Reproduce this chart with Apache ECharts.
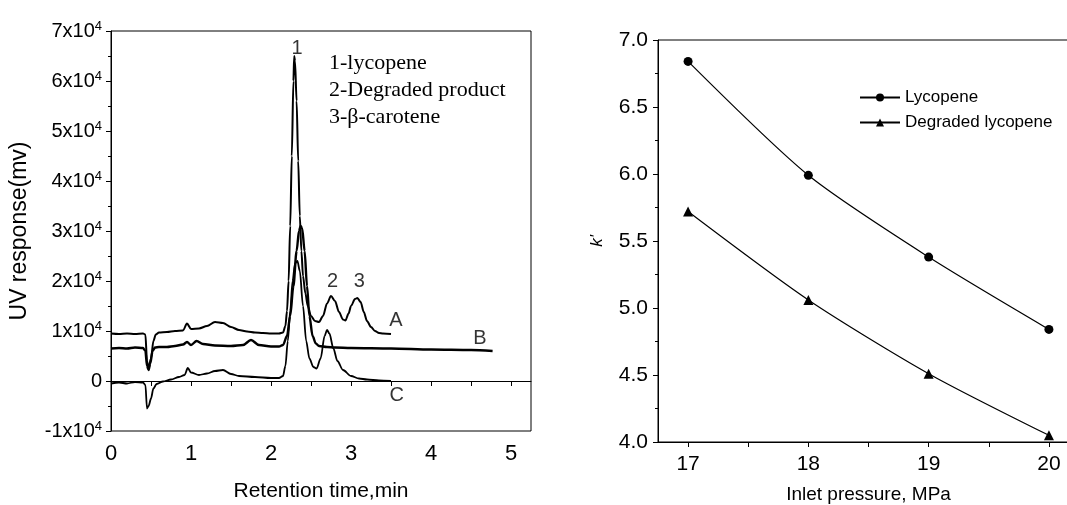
<!DOCTYPE html>
<html>
<head>
<meta charset="utf-8">
<script src="https://cdn.jsdelivr.net/npm/echarts@6/dist/echarts.min.js"></script>
<style>
  html, body { margin: 0; padding: 0; background: #fff; }
  #chart { width: 1067px; height: 505px; }
</style>
</head>
<body>
<div id="chart"></div>
<script>
// 色谱图 A：混合物（番茄红素 + 降解产物 + β-胡萝卜素）
var aTime = [0, 0.1, 0.2, 0.3, 0.4, 0.43, 0.45, 0.47, 0.5, 0.53, 0.56, 0.6, 0.7, 0.8, 0.9, 0.95, 1.0, 1.1, 1.2, 1.3, 1.4, 1.5, 1.6, 1.7, 1.8, 1.9, 2.0, 2.1, 2.15, 2.18, 2.2, 2.22, 2.24, 2.26, 2.28, 2.29, 2.3, 2.32, 2.34, 2.36, 2.38, 2.4, 2.43, 2.46, 2.5, 2.55, 2.6, 2.65, 2.7, 2.75, 2.8, 2.85, 2.9, 2.93, 2.97, 3.0, 3.05, 3.08, 3.12, 3.16, 3.2, 3.25, 3.3, 3.35, 3.4, 3.5];
var aResp = [9500, 9400, 9500, 9400, 9500, 9300, 4000, 2500, 4500, 8000, 9300, 9700, 9800, 10000, 10100, 11500, 10400, 10500, 11000, 11800, 11600, 10800, 10200, 9900, 9700, 9600, 9500, 9500, 9700, 11000, 14000, 20000, 31000, 45000, 60000, 65000, 64000, 56000, 44000, 33000, 26000, 21000, 17500, 15000, 13000, 12000, 11800, 13000, 15500, 17000, 16000, 13800, 12300, 12100, 13500, 15000, 16400, 16600, 15800, 13800, 12000, 10800, 10000, 9600, 9500, 9400];
// 色谱图 B
var bTime = [0, 0.1, 0.2, 0.3, 0.4, 0.43, 0.45, 0.47, 0.49, 0.52, 0.55, 0.6, 0.7, 0.8, 0.9, 0.95, 1.0, 1.07, 1.15, 1.3, 1.5, 1.65, 1.75, 1.85, 2.0, 2.1, 2.15, 2.2, 2.24, 2.28, 2.32, 2.35, 2.37, 2.39, 2.42, 2.45, 2.48, 2.52, 2.56, 2.6, 2.7, 2.8, 3.0, 3.5, 4.0, 4.5, 4.77];
var bResp = [6500, 6600, 6500, 6700, 6600, 6000, 3000, 2200, 3500, 6000, 6700, 6800, 6800, 7000, 7300, 7800, 7200, 8000, 7400, 7100, 7000, 7200, 8200, 7200, 6900, 6900, 7200, 9000, 13000, 19000, 26000, 30000, 31000, 30500, 26000, 19000, 13000, 9000, 7500, 7000, 6800, 6700, 6600, 6500, 6300, 6200, 6000];
// 色谱图 C
var cTime = [0, 0.1, 0.2, 0.3, 0.4, 0.43, 0.45, 0.47, 0.5, 0.53, 0.57, 0.65, 0.75, 0.85, 0.92, 0.96, 1.0, 1.1, 1.2, 1.3, 1.4, 1.5, 1.6, 1.8, 2.0, 2.1, 2.15, 2.18, 2.21, 2.24, 2.27, 2.3, 2.33, 2.36, 2.4, 2.44, 2.48, 2.53, 2.57, 2.62, 2.67, 2.7, 2.73, 2.78, 2.83, 2.9, 3.0, 3.1, 3.2, 3.35, 3.5];
var cResp = [-500, -300, -500, -200, -300, -800, -5500, -5000, -3500, -1500, -600, -100, 300, 800, 1200, 2600, 1700, 1200, 1500, 2000, 2200, 1400, 1000, 800, 600, 600, 1000, 3000, 8000, 14000, 20000, 23500, 24000, 22000, 15000, 8000, 4500, 2800, 2500, 4500, 9000, 10200, 9500, 6500, 4000, 2200, 1000, 500, 300, 100, 0];

// 峰号与曲线标记
var markText = ["1", "2", "3", "A", "B", "C"];
var markTime = [2.325, 2.77, 3.105, 3.56, 4.61, 3.57];
var markResp = [66600, 19900, 19900, 12100, 8500, -2800];

var noteLines = ["1-lycopene", "2-Degraded product", "3-β-carotene"];

// 右图：进口压力 vs k'
var pressure = [17, 18, 19, 20];
var kLycopene = [6.84, 5.99, 5.38, 4.84];
var kDegraded = [5.72, 5.06, 4.51, 4.05];

function pairs(xs, ys) {
	var out = [];
	for (var i = 0; i < xs.length; i++) {
		out.push([xs[i], ys[i]]);
	}
	return out;
}

var markData = [];
for (var i = 0; i < markText.length; i++) {
	markData.push({ name: markText[i], value: [markTime[i], markResp[i]] });
}

var black = "#000";
var sans = "Liberation Sans";

var chart = echarts.init(document.getElementById("chart"), null, { renderer: "canvas" });
var option = {
	animation: false,
	backgroundColor: "#fff",
	textStyle: { fontFamily: sans, color: black },
	grid: [
		{ left: 111, top: 31, width: 420, height: 400, outerBoundsMode: "none", show: true, borderColor: black, borderWidth: 1, backgroundColor: "transparent" },
		{ left: 658, top: 40, width: 421, height: 402, outerBoundsMode: "none", show: true, borderColor: black, borderWidth: 1, backgroundColor: "transparent" }
	],
	xAxis: [{
		gridIndex: 0,
		type: "value",
		min: 0,
		max: 5.25,
		interval: 0.5,
		name: "Retention time,min",
		nameLocation: "middle",
		nameGap: 50,
		nameTextStyle: { fontSize: 21, color: black, fontFamily: sans },
		axisLine: { lineStyle: { color: black, width: 1 } },
		axisTick: { length: 5, lineStyle: { color: black } },
		splitLine: { show: false },
		axisLabel: {
			fontSize: 22, color: black, margin: 12, showMaxLabel: false,
			formatter: function(v) { return v % 1 === 0 ? String(v) : ""; }
		}
	}, {
		gridIndex: 1,
		type: "value",
		min: 16.75,
		max: 20.25,
		splitNumber: 7,
		name: "Inlet pressure, MPa",
		nameLocation: "middle",
		nameGap: 43,
		nameTextStyle: { fontSize: 19, color: black, fontFamily: sans },
		axisLine: { lineStyle: { color: black, width: 1 } },
		axisTick: { length: 5, lineStyle: { color: black } },
		splitLine: { show: false },
		axisLabel: {
			fontSize: 21, color: black, margin: 12, showMinLabel: false, showMaxLabel: false,
			formatter: function(v) { return v % 1 === 0 ? String(v) : ""; }
		}
	}],
	yAxis: [{
		gridIndex: 0,
		type: "value",
		min: -10000,
		max: 70000,
		interval: 10000,
		name: "UV response(mv)",
		nameLocation: "middle",
		nameGap: 80,
		nameTextStyle: { fontSize: 23, color: black, fontFamily: sans },
		axisLine: { show: true, lineStyle: { color: black, width: 1 } },
		axisTick: { show: true, length: 5, lineStyle: { color: black } },
		minorTick: { show: true, splitNumber: 2, length: 3, lineStyle: { color: black } },
		splitLine: { show: false },
		axisLabel: {
			color: black, margin: 9,
			formatter: function(v) {
				if (v === 0) return "{n|0}";
				return "{n|" + (v / 10000) + "x10}{s|4}";
			},
			rich: {
				n: { fontSize: 20, color: black, fontFamily: sans },
				s: { fontSize: 13, color: black, fontFamily: sans, padding: [0, 0, 10, 0] }
			}
		}
	}, {
		gridIndex: 1,
		type: "value",
		min: 4,
		max: 7,
		interval: 0.5,
		name: "k'",
		nameLocation: "middle",
		nameGap: 52,
		nameTextStyle: { fontSize: 17, fontStyle: "italic", color: black, fontFamily: sans },
		axisLine: { show: true, lineStyle: { color: black, width: 1 } },
		axisTick: { show: true, length: 5, lineStyle: { color: black } },
		minorTick: { show: true, splitNumber: 2, length: 3, lineStyle: { color: black } },
		splitLine: { show: false },
		axisLabel: {
			fontSize: 21, color: black, margin: 10,
			formatter: function(v) { return v.toFixed(1); }
		}
	}],
	legend: {
		orient: "vertical",
		left: 859,
		top: 89,
		padding: 0,
		itemWidth: 40,
		itemHeight: 10,
		itemGap: 8,
		textStyle: { fontSize: 17, color: black, fontFamily: sans, lineHeight: 17 },
		data: ["Lycopene", "Degraded lycopene"]
	},
	graphic: [{
		type: "group",
		left: 329,
		top: 52,
		children: noteLines.map(function(t, i) {
			return {
				type: "text",
				x: 0,
				y: i * 27,
				style: { text: t, fontSize: 22, fontFamily: "Liberation Serif", fill: black }
			};
		})
	}],
	series: [{
		name: "A",
		type: "line",
		xAxisIndex: 0, yAxisIndex: 0,
		data: pairs(aTime, aResp),
		showSymbol: false,
		smooth: 0.3,
		smoothMonotone: "x",
		lineStyle: { color: black, width: 2 }
	}, {
		name: "B",
		type: "line",
		xAxisIndex: 0, yAxisIndex: 0,
		data: pairs(bTime, bResp),
		showSymbol: false,
		smooth: 0.3,
		smoothMonotone: "x",
		lineStyle: { color: black, width: 2.4 }
	}, {
		name: "C",
		type: "line",
		xAxisIndex: 0, yAxisIndex: 0,
		data: pairs(cTime, cResp),
		showSymbol: false,
		smooth: 0.3,
		smoothMonotone: "x",
		lineStyle: { color: black, width: 1.8 }
	}, {
		name: "marks",
		type: "scatter",
		xAxisIndex: 0, yAxisIndex: 0,
		data: markData,
		symbolSize: 0,
		label: {
			show: true,
			position: "inside",
			formatter: "{b}",
			fontSize: 20,
			color: black,
			fontFamily: sans
		}
	}, {
		name: "Lycopene",
		type: "line",
		xAxisIndex: 1, yAxisIndex: 1,
		data: pairs(pressure, kLycopene),
		smooth: 0.25,
		symbol: "circle",
		symbolSize: 9,
		itemStyle: { color: black },
		lineStyle: { color: black, width: 1.2 }
	}, {
		name: "Degraded lycopene",
		type: "line",
		xAxisIndex: 1, yAxisIndex: 1,
		data: pairs(pressure, kDegraded),
		smooth: 0.25,
		symbol: "triangle",
		symbolSize: 10,
		itemStyle: { color: black },
		lineStyle: { color: black, width: 1.2 }
	}]
};
chart.setOption(option);
</script>
</body>
</html>
